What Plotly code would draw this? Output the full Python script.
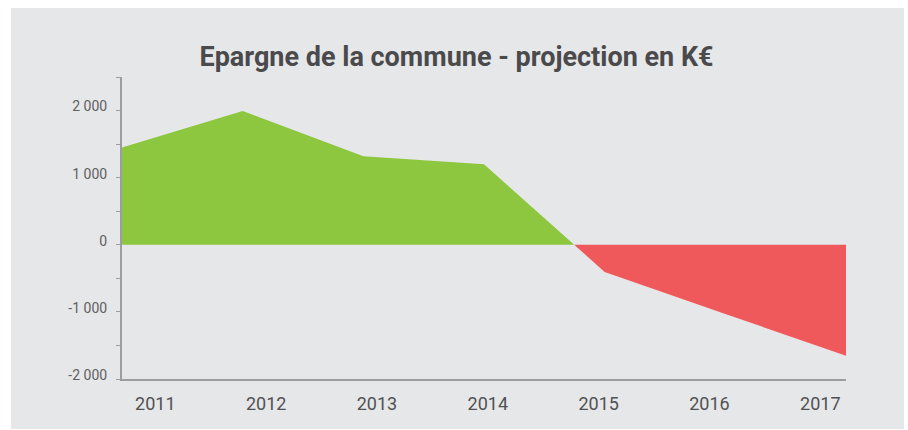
import plotly.graph_objects as go

# ---- data ----
years = ["2011", "2012", "2013", "2014", "2015", "2016", "2017"]
epargne = [1450, 1995, 1320, 1200, -405, -1030, -1655]
y_tickvals = [-2000, -1000, 0, 1000, 2000]
y_ticktext = ["-2 000", "-1 000", "0", "1 000", "2 000"]
title_text = "Epargne de la commune - projection en K€"

GREEN = "#8dc63f"
RED = "#f0595c"
BG = "#e6e7e8"
AXIS = "#9d9d9f"
TEXT = "#555557"

# build positive / negative polygons splitting at zero crossings
xs = list(range(len(epargne)))
pos_x, pos_y, neg_x, neg_y = [], [], [], []
for i, v in enumerate(epargne):
    if i > 0:
        a, b = epargne[i - 1], v
        if (a > 0) != (b > 0):
            xc = (i - 1) + a / (a - b)
            pos_x.append(xc); pos_y.append(0)
            neg_x.append(xc); neg_y.append(0)
    if v >= 0:
        pos_x.append(xs[i]); pos_y.append(v)
    else:
        neg_x.append(xs[i]); neg_y.append(v)

fig = go.Figure()
fig.add_trace(go.Scatter(x=pos_x, y=pos_y, mode="lines", fill="tozeroy",
                         fillcolor=GREEN, line=dict(width=0, color=GREEN),
                         hoverinfo="skip", showlegend=False))
fig.add_trace(go.Scatter(x=neg_x, y=neg_y, mode="lines", fill="tozeroy",
                         fillcolor=RED, line=dict(width=0, color=RED),
                         hoverinfo="skip", showlegend=False))

# label positions along the x axis (labels are offset from data points in the original)
n = len(years)
first_lab, last_lab = 0.276, 5.787
lab_pos = [first_lab + i * (last_lab - first_lab) / (n - 1) for i in range(n)]

W, H = 908, 430
L, R, T, B = 122, 62, 77, 51
pw, ph = W - L - R, H - T - B

fig.update_layout(
    width=W, height=H,
    margin=dict(l=L, r=R, t=T, b=B, pad=0),
    paper_bgcolor="white",
    plot_bgcolor="rgba(0,0,0,0)",
    font=dict(family="Roboto", color=TEXT),
    title=dict(text=title_text, xref="container", yref="container",
               x=456.5 / W, y=1 - 57 / H, xanchor="center", yanchor="middle",
               font=dict(family="Roboto", size=27, weight=700, color="#4a4a4c")),
    shapes=[
        dict(type="rect", xref="paper", yref="paper", layer="below",
             x0=(11 - L) / pw, x1=(904 - L) / pw,
             y0=(H - B - 429) / ph, y1=(H - B - 8) / ph,
             fillcolor=BG, line=dict(width=0)),
    ],
    xaxis=dict(range=[0, 6], showgrid=False, zeroline=False,
               showline=True, linecolor=AXIS, linewidth=2,
               tickmode="array", tickvals=lab_pos, ticktext=years,
               ticks="", tickfont=dict(size=18, color="#515153"),
               ticklabelstandoff=7,
               fixedrange=True),
    yaxis=dict(range=[-2000, 2500], showgrid=False, zeroline=False,
               showline=True, linecolor=AXIS, linewidth=2,
               tickmode="array", tickvals=y_tickvals, ticktext=y_ticktext,
               ticks="outside", ticklen=4, tickcolor=AXIS, tickwidth=1,
               minor=dict(tickmode="linear", tick0=0, dtick=500, ticks="outside",
                          ticklen=4, tickcolor=AXIS, tickwidth=1),
               tickfont=dict(size=14, color="#5f5f61"),
               ticklabelstandoff=6, ticklabelshift=-4,
               fixedrange=True),
)

fig.write_html("out.html")
